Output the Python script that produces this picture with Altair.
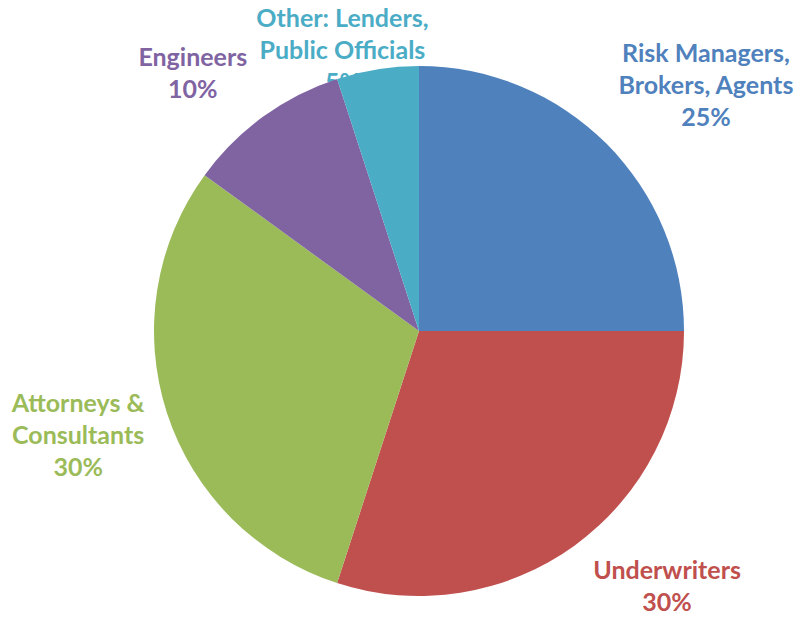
import altair as alt
import pandas as pd

categories = ["Risk Managers, Brokers, Agents", "Underwriters", "Attorneys & Consultants",
              "Engineers", "Other: Lenders, Public Officials"]
values = [25, 30, 30, 10, 5]
label_lines = [
    ["Risk Managers,", "Brokers, Agents", "25%"],
    ["Underwriters", "30%"],
    ["Attorneys &", "Consultants", "30%"],
    ["Engineers", "10%"],
    ["Other: Lenders,", "Public Officials", "5%"],
]
colors = ["#4F81BD", "#C0504D", "#9BBB59", "#8064A2", "#4BACC6"]

df = pd.DataFrame({
    "category": categories,
    "value": values,
    "idx": list(range(len(categories))),
    "label": label_lines,
})

CX, CY, R = 411, 323, 265
LH = 32
theta_scale = alt.Scale(domain=[0, 100])
color_scale = alt.Scale(domain=categories, range=colors)

base = alt.Chart(df).transform_window(
    cum="sum(value)", sort=[{"field": "idx"}]
).transform_calculate(mid="datum.cum - datum.value / 2")

arcs = alt.Chart(df).mark_arc(radius=R).encode(
    theta=alt.Theta("value:Q", stack=True, scale=theta_scale),
    color=alt.Color("category:N", scale=color_scale, legend=None),
    order=alt.Order("idx:Q"),
    x=alt.value(CX), y=alt.value(CY),
)

# per-label placement: (radius, dx, dy)
placement = [(345, 43, -1), (320, 60, -3), (350, -8, -3), (310, -44, -6), (285, -32, 1)]

texts = []
for cat, lines, (rad, dx, dy) in zip(categories, label_lines, placement):
    t = base.transform_filter(alt.datum.category == cat).mark_text(
        radius=rad, dx=dx, dy=dy - (len(lines) - 1) * LH / 2,
        font="Lato", fontWeight="bold", fontSize=25,
        lineHeight=LH, align="center", baseline="middle"
    ).encode(
        theta=alt.Theta("mid:Q", scale=theta_scale),
        text=alt.Text("label:N"),
        color=alt.Color("category:N", scale=color_scale, legend=None),
        x=alt.value(CX), y=alt.value(CY),
    )
    texts.append(t)

chart = alt.layer(*texts, arcs).properties(
    width=787, height=606, autosize=alt.AutoSizeParams(type="none"), padding=0
).configure_view(stroke=None)

chart.save("out.html", embed_options={"renderer": "svg", "actions": False})
